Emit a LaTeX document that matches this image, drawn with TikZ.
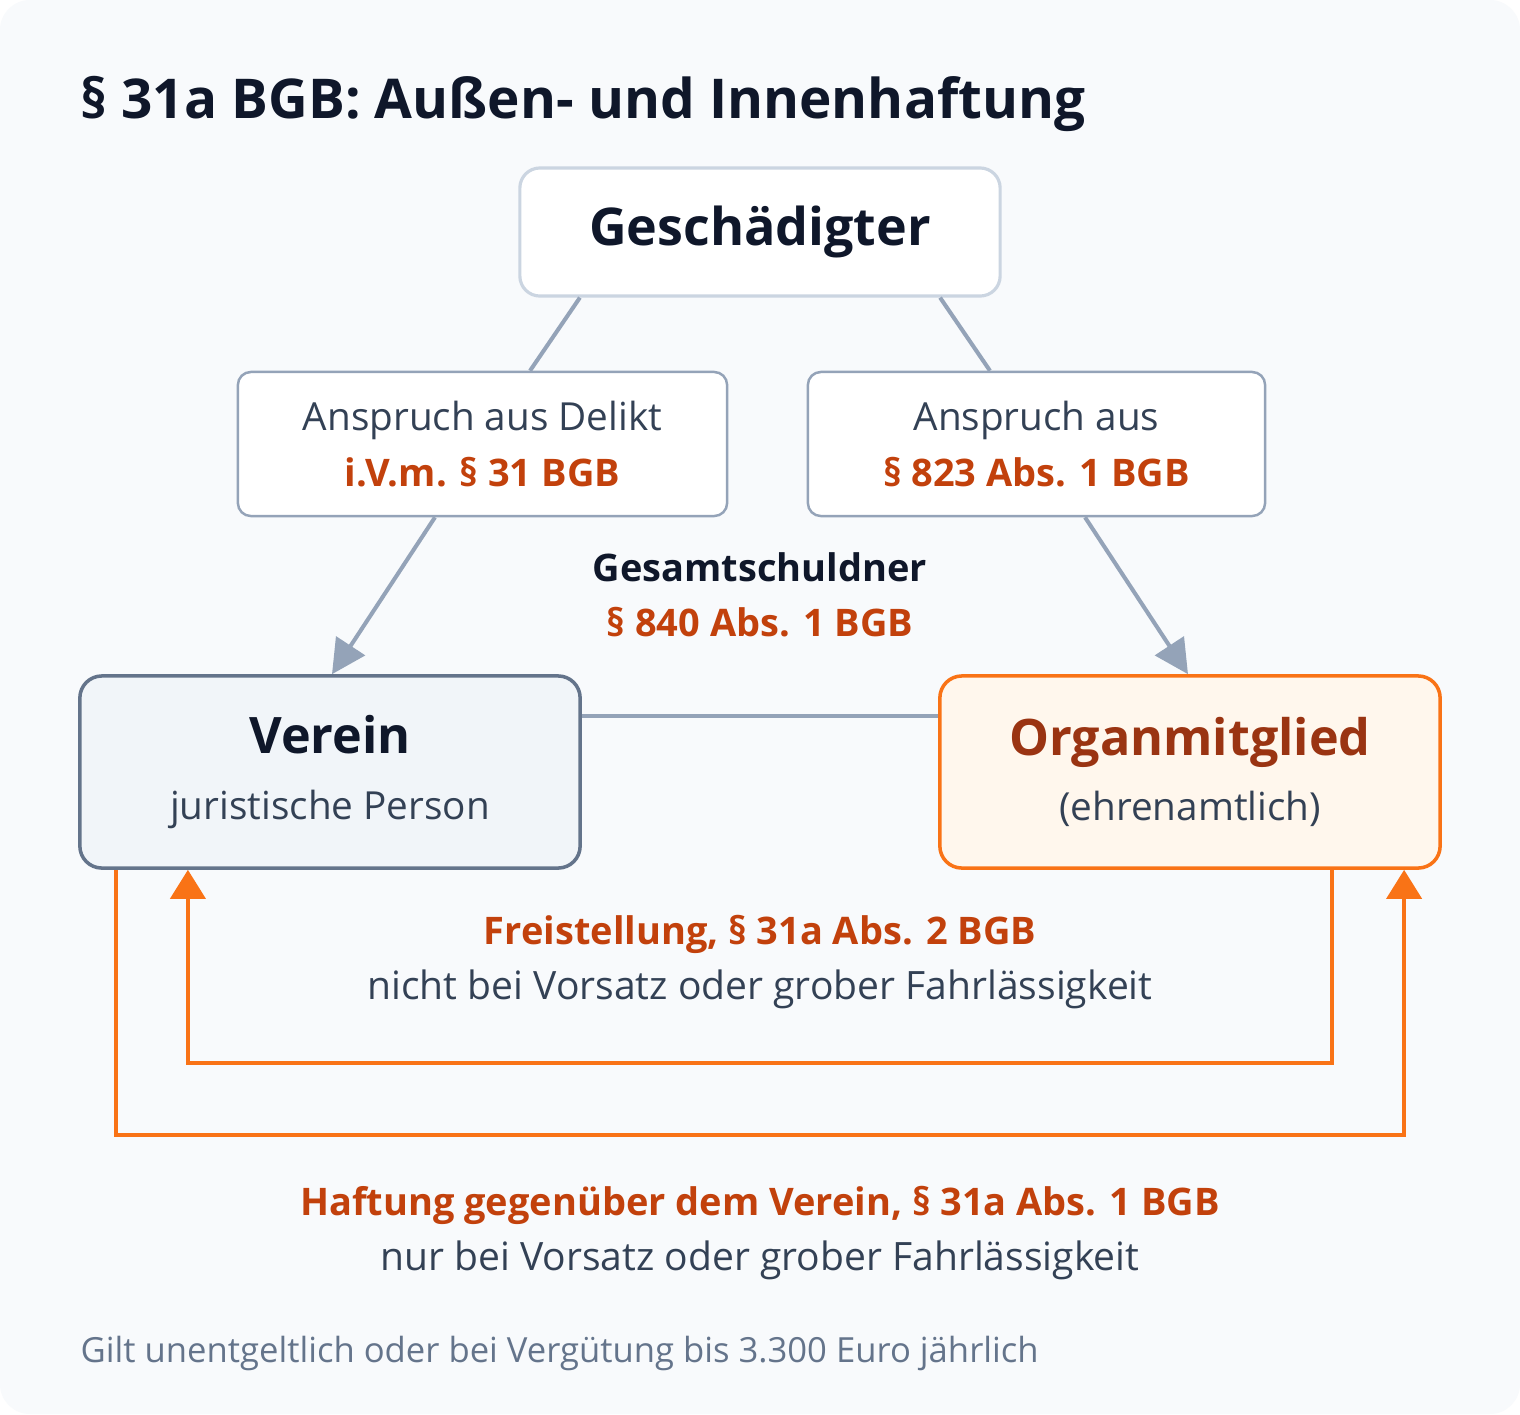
\documentclass[tikz,border=0pt]{standalone}
\usepackage{fontspec}
\setmainfont{Open Sans}
\usetikzlibrary{arrows.meta}

\definecolor{pagebg}{HTML}{F8FAFC}
\definecolor{ink}{HTML}{0F172A}
\definecolor{bodytext}{HTML}{334155}
\definecolor{lawred}{HTML}{C2410C}
\definecolor{organred}{HTML}{9A3412}
\definecolor{slateline}{HTML}{94A3B8}
\definecolor{lightborder}{HTML}{CBD5E1}
\definecolor{vereinfill}{HTML}{F1F5F9}
\definecolor{vereinborder}{HTML}{64748B}
\definecolor{organfill}{HTML}{FFF7ED}
\definecolor{organborder}{HTML}{F97316}
\definecolor{notegray}{HTML}{64748B}

\newcommand{\lawref}[1]{{\fontsize{10.8}{15.8}\selectfont\bfseries\color{lawred}#1}}

\tikzset{
  claimbox/.style={draw=slateline, line width=0.7pt, fill=white, rounded corners=0.13cm,
    minimum height=1.44cm, align=center, text=bodytext,
    font=\fontsize{11}{15.8}\selectfont},
  partybox/.style={line width=1pt, rounded corners=0.22cm, minimum width=5cm,
    minimum height=1.92cm, align=center, text=bodytext,
    font=\fontsize{11}{18.5}\selectfont},
  plaintext/.style={align=center, text=bodytext, font=\fontsize{11.1}{15.8}\selectfont},
  greyline/.style={draw=slateline, line width=1.15pt},
  greyarrow/.style={greyline, -{Triangle[length=0.34cm,width=0.34cm]}},
  orangearrow/.style={draw=organborder, line width=1.15pt,
    -{Triangle[length=0.29cm,width=0.35cm]}}
}

\begin{document}
\begin{tikzpicture}[x=0.01cm, y=-0.01cm]
  \useasboundingbox (0,0) rectangle (1520,1414);
  \fill[white] (0,0) rectangle (1520,1414);
  \fill[pagebg, rounded corners=0.3cm] (0,0) rectangle (1520,1414);

  \node[anchor=base west, inner sep=0pt, text=ink, font=\fontsize{15.6}{18}\selectfont\bfseries] (title)
    at (80,118) {§ 31a BGB: Außen- und Innenhaftung};

  \node[draw=lightborder, line width=0.9pt, fill=white, rounded corners=0.2cm,
    minimum width=4.8cm, minimum height=1.28cm, text=ink,
    font=\fontsize{14.8}{17}\selectfont\bfseries] (ges) at (760,232) {\raisebox{-1.3pt}{Geschädigter}};

  \node[claimbox, minimum width=4.89cm] (delikt) at (482.5,444)
    {Anspruch aus Delikt\\\lawref{i.V.m. § 31 BGB}};
  \node[claimbox, minimum width=4.57cm] (paragraph) at (1036.5,444)
    {Anspruch aus\\\lawref{§ 823 Abs. 1 BGB}};

  \node[plaintext] (gesamt) at (760,595)
    {{\fontsize{10.8}{15.8}\selectfont\bfseries\color{ink}Gesamtschuldner}\\\lawref{§ 840 Abs. 1 BGB}};

  \node[partybox, draw=vereinborder, fill=vereinfill] (verein) at (330,772)
    {{\fontsize{14.3}{18.5}\selectfont\bfseries\color{ink}Verein}\\juristische Person};
  \node[partybox, draw=organborder, fill=organfill] (organ) at (1190,772)
    {{\fontsize{14.3}{18.5}\selectfont\bfseries\color{organred}Organmitglied}\\(ehrenamtlich)};

  \draw[greyline] ([xshift=-1.8cm]ges.south) -- ([xshift=0.475cm]delikt.north);
  \draw[greyline] ([xshift=1.8cm]ges.south) -- ([xshift=-0.465cm]paragraph.north);
  \draw[greyarrow] ([xshift=-0.475cm]delikt.south) -- ([xshift=0.02cm]verein.north);
  \draw[greyarrow] ([xshift=0.485cm]paragraph.south) -- ([xshift=-0.02cm]organ.north);
  \draw[greyline] ([yshift=0.56cm]verein.east) -- ([yshift=0.56cm]organ.west);

  % Freistellung und Innenhaftung
  \coordinate (freeturn) at (760,1063);
  \coordinate (liabturn) at (760,1135);
  \draw[orangearrow] ([xshift=1.42cm]organ.south) |- (freeturn) -| ([xshift=-1.42cm]verein.south);
  \draw[orangearrow] ([xshift=-2.14cm]verein.south) |- (liabturn) -| ([xshift=2.14cm]organ.south);

  \node[plaintext] (freetext) at (760,962)
    {\lawref{Freistellung, § 31a Abs. 2 BGB}\\nicht bei Vorsatz oder grober Fahrlässigkeit};
  \node[plaintext] (liabtext) at (760,1233)
    {\lawref{Haftung gegenüber dem Verein, § 31a Abs. 1 BGB}\\nur bei Vorsatz oder grober Fahrlässigkeit};

  \node[anchor=base west, inner sep=0pt, text=notegray, font=\fontsize{9.85}{12}\selectfont] (note)
    at (80,1362) {Gilt unentgeltlich oder bei Vergütung bis 3.300 Euro jährlich};
\end{tikzpicture}
\end{document}
